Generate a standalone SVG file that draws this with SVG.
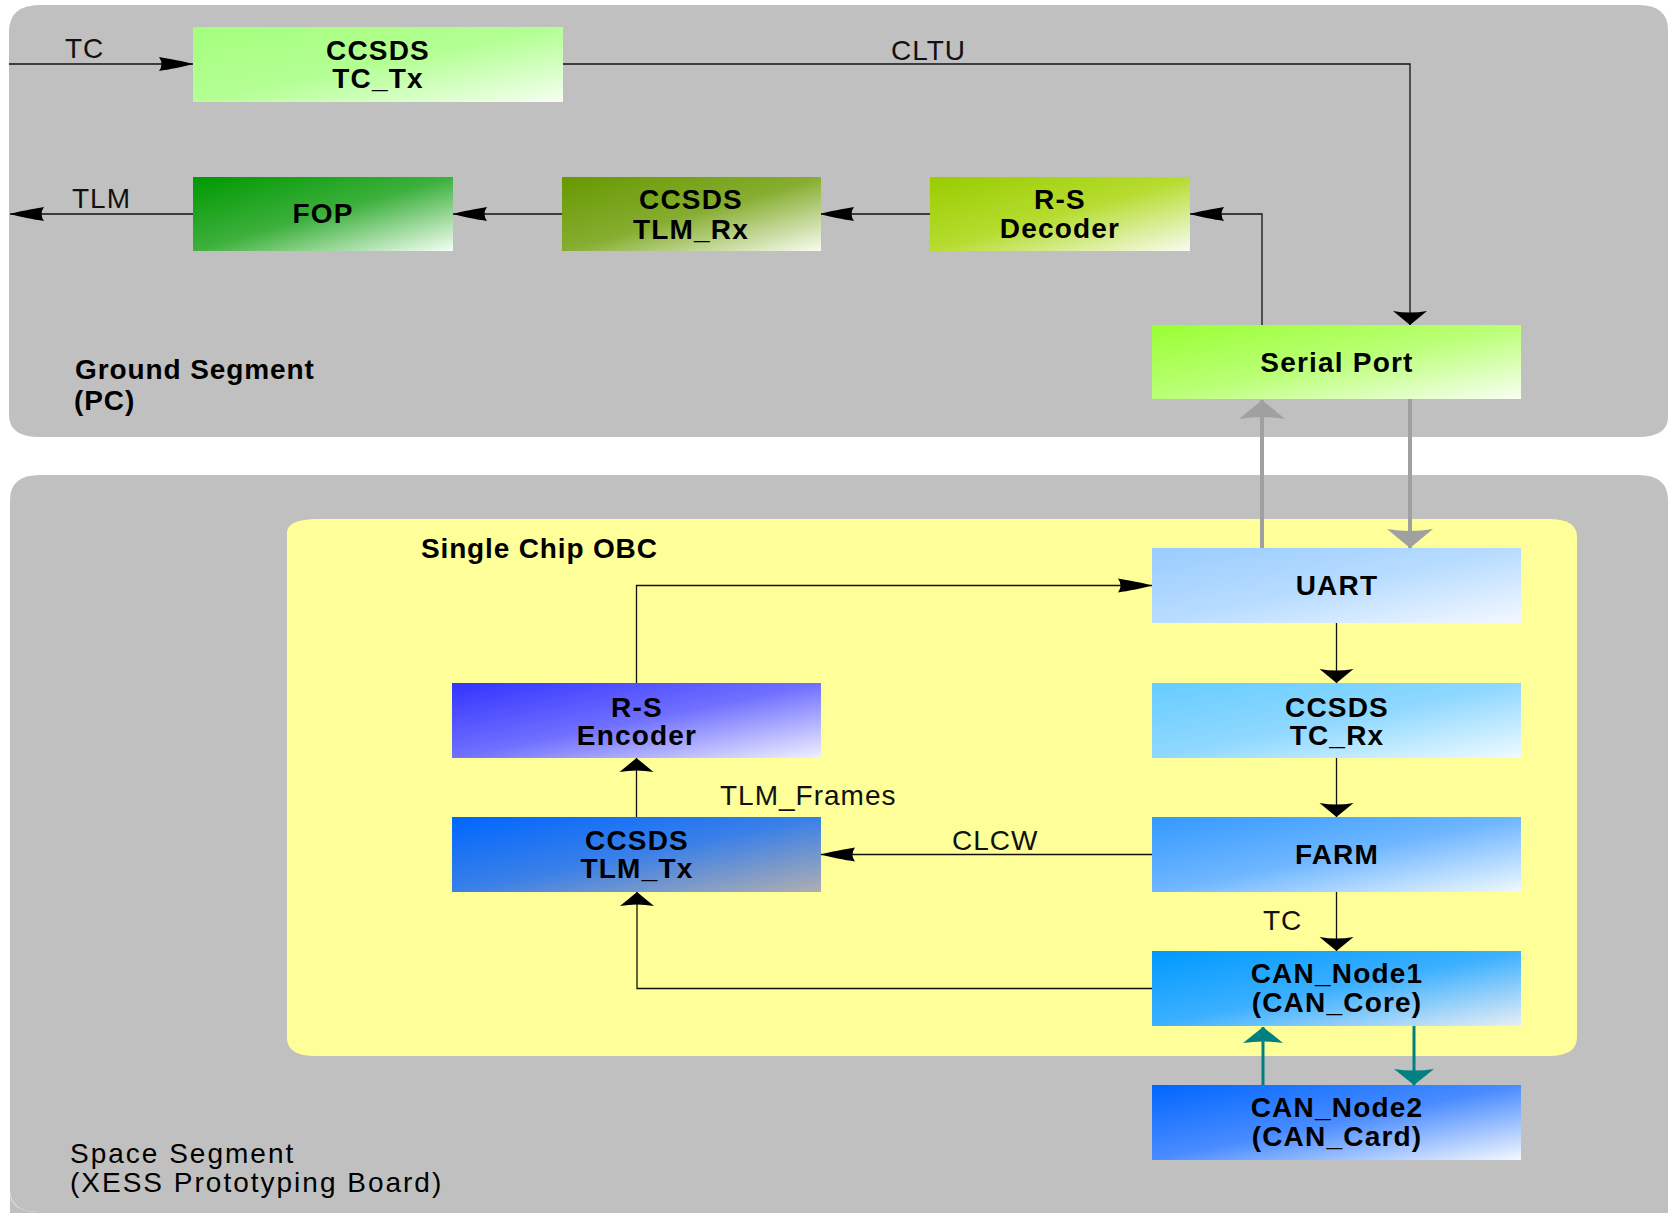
<svg xmlns="http://www.w3.org/2000/svg" width="1668" height="1213" viewBox="0 0 1668 1213">
  <defs>
    <style>
      .panel-grey { fill: #c0c0c0; }
      .panel-chip { fill: #ffff99; }
      .node-label { font-family: "Liberation Sans", Arial, sans-serif; font-weight: bold; font-size: 28px; letter-spacing: 1.2px; text-anchor: middle; fill: #000; }
      .flow-label { font-family: "Liberation Sans", Arial, sans-serif; font-size: 28px; letter-spacing: 1px; fill: #111; }
      .seg-label { font-family: "Liberation Sans", Arial, sans-serif; font-size: 28px; fill: #000; }
      .conn { fill: none; stroke: #111; stroke-width: 1.3; }
      .conn-grey { fill: none; stroke: #a0a0a0; stroke-width: 4; }
      .conn-teal { fill: none; stroke: #008080; stroke-width: 3; }
    </style>

    <!-- long thin dart for horizontal flows -->
    <marker id="dart-h" markerUnits="userSpaceOnUse" markerWidth="40" markerHeight="20" refX="0" refY="0" orient="auto" overflow="visible">
      <path d="M0,0 C-9,-2.5 -24,-5.5 -34,-7 Q-29,0 -34,7 C-24,5.5 -9,2.5 0,0 Z" fill="#000"/>
    </marker>
    <!-- short wide dart for vertical flows -->
    <marker id="dart-v" markerUnits="userSpaceOnUse" markerWidth="20" markerHeight="40" refX="0" refY="0" orient="auto" overflow="visible">
      <path d="M0,0 L-14,-17 Q-11,0 -14,17 Z" fill="#000"/>
    </marker>
    <marker id="dart-grey" markerUnits="userSpaceOnUse" markerWidth="24" markerHeight="50" refX="0" refY="0" orient="auto" overflow="visible">
      <path d="M0,0 L-19,-23 Q-15,0 -19,23 Z" fill="#a0a0a0"/>
    </marker>
    <marker id="dart-teal" markerUnits="userSpaceOnUse" markerWidth="20" markerHeight="44" refX="0" refY="0" orient="auto" overflow="visible">
      <path d="M0,0 L-16,-20 Q-13,0 -16,20 Z" fill="#008080"/>
    </marker>

    <!-- block fills: saturated at the left, fading to white at the lower right -->
    <linearGradient id="g-tctx" x1="0" y1="0" x2="1" y2="1">
      <stop offset="0" stop-color="#a4ff7c"/>
      <stop offset="0.5" stop-color="#b4ff94"/>
      <stop offset="1" stop-color="#f6fff2"/>
    </linearGradient>
    <linearGradient id="g-fop" x1="0" y1="0" x2="1" y2="1">
      <stop offset="0" stop-color="#009900"/>
      <stop offset="0.5" stop-color="#3db03d"/>
      <stop offset="1" stop-color="#f4fff4"/>
    </linearGradient>
    <linearGradient id="g-tlmrx" x1="0" y1="0" x2="1" y2="1">
      <stop offset="0" stop-color="#669900"/>
      <stop offset="0.5" stop-color="#86ad30"/>
      <stop offset="1" stop-color="#f8fcf0"/>
    </linearGradient>
    <linearGradient id="g-rsdec" x1="0" y1="0" x2="1" y2="1">
      <stop offset="0" stop-color="#99cc00"/>
      <stop offset="0.5" stop-color="#b6dc30"/>
      <stop offset="1" stop-color="#f8fcf0"/>
    </linearGradient>
    <linearGradient id="g-serial" x1="0" y1="0" x2="1" y2="1">
      <stop offset="0" stop-color="#99ff33"/>
      <stop offset="0.5" stop-color="#bbff77"/>
      <stop offset="1" stop-color="#f8fff2"/>
    </linearGradient>
    <linearGradient id="g-uart" x1="0" y1="0" x2="1" y2="1">
      <stop offset="0" stop-color="#99ccff"/>
      <stop offset="0.5" stop-color="#b8dcff"/>
      <stop offset="1" stop-color="#f4f8ff"/>
    </linearGradient>
    <linearGradient id="g-tcrx" x1="0" y1="0" x2="1" y2="1">
      <stop offset="0" stop-color="#66ccff"/>
      <stop offset="0.5" stop-color="#8fd8ff"/>
      <stop offset="1" stop-color="#f0faff"/>
    </linearGradient>
    <linearGradient id="g-farm" x1="0" y1="0" x2="1" y2="1">
      <stop offset="0" stop-color="#3399ff"/>
      <stop offset="0.5" stop-color="#6eb6ff"/>
      <stop offset="1" stop-color="#f0f8ff"/>
    </linearGradient>
    <linearGradient id="g-can1" x1="0" y1="0" x2="1" y2="1">
      <stop offset="0" stop-color="#0099ff"/>
      <stop offset="0.5" stop-color="#3cb0ff"/>
      <stop offset="1" stop-color="#e8eef4"/>
    </linearGradient>
    <linearGradient id="g-can2" x1="0" y1="0" x2="1" y2="1">
      <stop offset="0" stop-color="#0066ff"/>
      <stop offset="0.5" stop-color="#4a8cff"/>
      <stop offset="1" stop-color="#f4f8ff"/>
    </linearGradient>
    <linearGradient id="g-rsenc" x1="0" y1="0" x2="1" y2="1">
      <stop offset="0" stop-color="#3333ff"/>
      <stop offset="0.5" stop-color="#7070ff"/>
      <stop offset="1" stop-color="#f0f0ff"/>
    </linearGradient>
    <linearGradient id="g-tlmtx" x1="0" y1="0" x2="1" y2="1">
      <stop offset="0" stop-color="#0066ff"/>
      <stop offset="0.5" stop-color="#3a80e8"/>
      <stop offset="1" stop-color="#b0aeb0"/>
    </linearGradient>
  </defs>

  <rect width="1668" height="1213" fill="#ffffff"/>

  <!-- segment panels -->
  <g id="ground-segment">
    <path class="panel-grey" d="M40,5 H1638 Q1668,5 1668,30 V417 Q1668,437 1638,437 H40 Q9,437 9,415 V32 Q9,5 40,5 Z"/>
    <text class="seg-label" x="75" y="379" font-weight="bold" letter-spacing="0.9">Ground Segment</text>
    <text class="seg-label" x="74" y="410" font-weight="bold" letter-spacing="0.9">(PC)</text>
  </g>

  <g id="space-segment">
    <path class="panel-grey" d="M40,475 H1638 Q1668,475 1668,500 V1213 H10 V1192 Q10,1212 40,1212 Z"/>
    <path class="panel-grey" d="M10,500 Q10,475 40,475 H60 V1212 H40 Q10,1212 10,1190 Z"/>
    <text class="seg-label" x="70" y="1163" letter-spacing="2">Space Segment</text>
    <text class="seg-label" x="70" y="1192" letter-spacing="2"> (XESS Prototyping Board)</text>
  </g>

  <g id="single-chip-obc">
    <path class="panel-chip" d="M318,519 H1549 Q1577,519 1577,537 V1037 Q1577,1056 1549,1056 H316 Q287,1056 287,1038 V533 Q287,519 318,519 Z"/>
    <text class="seg-label" x="421" y="558" font-weight="bold" letter-spacing="0.85">Single Chip OBC</text>
  </g>

  <!-- connectors -->
  <g id="connectors">
    <path class="conn" d="M9,64 H193" marker-end="url(#dart-h)"/>
    <path class="conn" d="M563,64 H1410 V325" marker-end="url(#dart-v)"/>
    <path class="conn" d="M1262,325 V214 H1190" marker-end="url(#dart-h)"/>
    <path class="conn" d="M930,214 H820" marker-end="url(#dart-h)"/>
    <path class="conn" d="M562,214 H453" marker-end="url(#dart-h)"/>
    <path class="conn" d="M193,214 H10" marker-end="url(#dart-h)"/>

    <path class="conn-grey" d="M1262,548 V400" marker-end="url(#dart-grey)"/>
    <path class="conn-grey" d="M1410,399 V548" marker-end="url(#dart-grey)"/>

    <path class="conn" d="M1336.5,623 V683" marker-end="url(#dart-v)"/>
    <path class="conn" d="M1336.5,758 V817" marker-end="url(#dart-v)"/>
    <path class="conn" d="M1336.5,892 V951" marker-end="url(#dart-v)"/>
    <path class="conn" d="M1152,854.5 H821" marker-end="url(#dart-h)"/>
    <path class="conn" d="M1152,988.5 H637 V892" marker-end="url(#dart-v)"/>
    <path class="conn" d="M636.5,817 V758" marker-end="url(#dart-v)"/>
    <path class="conn" d="M636.5,683 V585.5 H1152" marker-end="url(#dart-h)"/>

    <path class="conn-teal" d="M1263,1085 V1027" marker-end="url(#dart-teal)"/>
    <path class="conn-teal" d="M1414,1026 V1085" marker-end="url(#dart-teal)"/>

    <text class="flow-label" x="65" y="58">TC</text>
    <text class="flow-label" x="891" y="60">CLTU</text>
    <text class="flow-label" x="72" y="208">TLM</text>
    <text class="flow-label" x="720" y="805">TLM_Frames</text>
    <text class="flow-label" x="952" y="850">CLCW</text>
    <text class="flow-label" x="1263" y="930">TC</text>
  </g>

  <!-- ground segment blocks -->
  <g id="ccsds-tc-tx">
    <rect x="193" y="27" width="370" height="75" fill="url(#g-tctx)"/>
    <text class="node-label" x="378" y="59.5">CCSDS</text>
    <text class="node-label" x="378" y="87.5">TC_Tx</text>
  </g>
  <g id="fop">
    <rect x="193" y="177" width="260" height="74" fill="url(#g-fop)"/>
    <text class="node-label" x="323" y="223">FOP</text>
  </g>
  <g id="ccsds-tlm-rx">
    <rect x="562" y="177" width="259" height="74" fill="url(#g-tlmrx)"/>
    <text class="node-label" x="691" y="209">CCSDS</text>
    <text class="node-label" x="691" y="239">TLM_Rx</text>
  </g>
  <g id="rs-decoder">
    <rect x="930" y="177" width="260" height="74" fill="url(#g-rsdec)"/>
    <text class="node-label" x="1060" y="209">R-S</text>
    <text class="node-label" x="1060" y="238">Decoder</text>
  </g>
  <g id="serial-port">
    <rect x="1152" y="325" width="369" height="74" fill="url(#g-serial)"/>
    <text class="node-label" x="1337" y="372">Serial Port</text>
  </g>

  <!-- on-board blocks -->
  <g id="uart">
    <rect x="1152" y="548" width="369" height="75" fill="url(#g-uart)"/>
    <text class="node-label" x="1337" y="595">UART</text>
  </g>
  <g id="ccsds-tc-rx">
    <rect x="1152" y="683" width="369" height="75" fill="url(#g-tcrx)"/>
    <text class="node-label" x="1337" y="717">CCSDS</text>
    <text class="node-label" x="1337" y="745">TC_Rx</text>
  </g>
  <g id="farm">
    <rect x="1152" y="817" width="369" height="75" fill="url(#g-farm)"/>
    <text class="node-label" x="1337" y="864">FARM</text>
  </g>
  <g id="can-node1">
    <rect x="1152" y="951" width="369" height="75" fill="url(#g-can1)"/>
    <text class="node-label" x="1337" y="983">CAN_Node1</text>
    <text class="node-label" x="1337" y="1012">(CAN_Core)</text>
  </g>
  <g id="can-node2">
    <rect x="1152" y="1085" width="369" height="75" fill="url(#g-can2)"/>
    <text class="node-label" x="1337" y="1117">CAN_Node2</text>
    <text class="node-label" x="1337" y="1146">(CAN_Card)</text>
  </g>
  <g id="rs-encoder">
    <rect x="452" y="683" width="369" height="75" fill="url(#g-rsenc)"/>
    <text class="node-label" x="637" y="717">R-S</text>
    <text class="node-label" x="637" y="745">Encoder</text>
  </g>
  <g id="ccsds-tlm-tx">
    <rect x="452" y="817" width="369" height="75" fill="url(#g-tlmtx)"/>
    <text class="node-label" x="637" y="850">CCSDS</text>
    <text class="node-label" x="637" y="878">TLM_Tx</text>
  </g>
</svg>
